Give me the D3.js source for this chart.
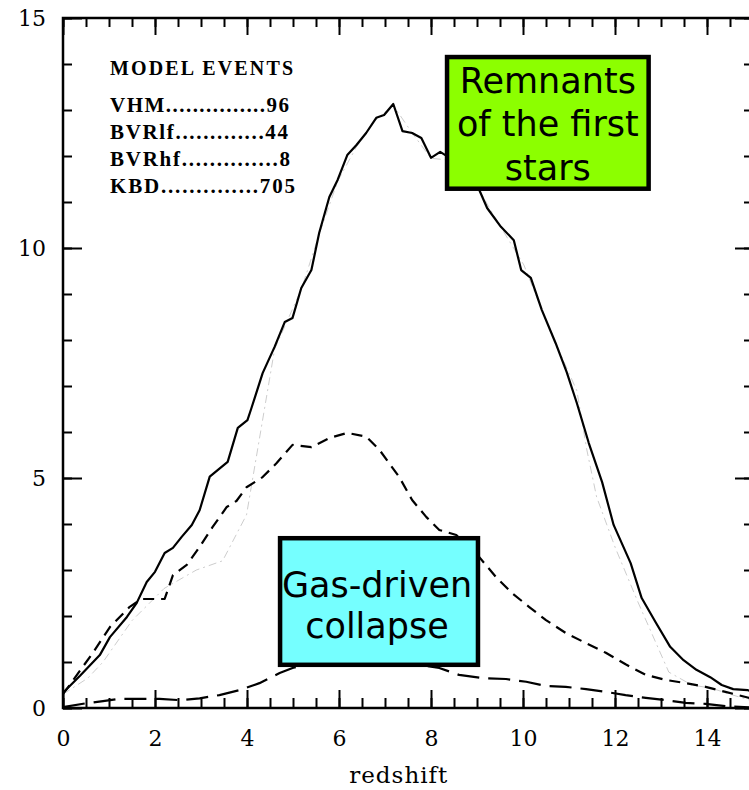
<!DOCTYPE html>
<html><head><meta charset="utf-8">
<script src="https://cdn.jsdelivr.net/npm/d3@7"></script>
<style>body{margin:0;background:#fff;overflow:hidden} svg{display:block}</style>
</head><body>
<svg id="c" width="749" height="790"></svg>
<script>
// KBD (solid)
const zKBD = [0,0.37,0.8,1.02,1.39,1.6,1.82,2.0,2.21,2.39,2.58,2.8,2.97,3.19,3.58,3.8,4.01,4.09,4.34,4.6,4.82,4.99,5.18,5.4,5.57,5.79,5.97,6.18,6.38,6.59,6.81,6.98,7.18,7.38,7.59,7.79,8.0,8.2,8.5,8.8,9.05,9.22,9.52,9.8,9.96,10.17,10.41,10.71,10.95,11.17,11.43,11.72,11.97,12.34,12.58,12.88,13.2,13.49,13.77,14.07,14.32,14.57,14.88,15];
const nKBD = [0.33,0.7,1.15,1.54,1.98,2.28,2.74,2.96,3.37,3.48,3.72,3.98,4.3,5.03,5.35,6.09,6.26,6.5,7.28,7.85,8.39,8.48,9.13,9.52,10.33,11.11,11.48,12.02,12.24,12.5,12.83,12.89,13.13,12.54,12.5,12.39,11.96,12.09,11.9,11.6,11.26,10.87,10.46,10.17,9.52,9.35,8.65,7.93,7.3,6.63,5.76,4.91,3.98,3.15,2.39,1.87,1.33,1.04,0.83,0.67,0.5,0.41,0.39,0.35];
// VHM (short dash)
const zVHM = [0,0.65,1.02,1.45,1.71,2.21,2.39,2.69,2.97,3.25,3.56,3.77,3.99,4.34,4.64,4.99,5.4,5.79,6.18,6.59,6.88,7.31,7.59,7.9,8.18,8.55,9.05,9.41,9.76,10.13,10.5,10.93,11.37,11.8,12.23,12.67,13.1,13.54,13.97,14.4,14.84,15];
const nVHM = [0.3,1.2,1.76,2.2,2.37,2.37,2.89,3.11,3.5,3.93,4.37,4.5,4.8,5.02,5.32,5.72,5.67,5.87,5.98,5.9,5.61,5.02,4.52,4.15,3.87,3.76,3.28,2.85,2.5,2.2,1.91,1.63,1.41,1.2,0.95,0.72,0.61,0.54,0.46,0.35,0.24,0.2];
// BVRlf (long dash)
const zBVRlf = [0,0.48,0.87,1.24,1.67,2.1,2.54,2.97,3.4,3.84,4.27,4.71,4.99,5.5,6,6.5,7,7.5,8.18,8.61,9.11,9.63,10.07,10.5,10.93,11.37,11.8,12.23,12.67,13.1,13.54,13.97,14.4,15];
const nBVRlf = [0.02,0.1,0.15,0.2,0.2,0.2,0.17,0.21,0.28,0.39,0.54,0.76,0.87,0.98,1.04,1.05,1.03,0.98,0.87,0.72,0.65,0.63,0.57,0.48,0.46,0.41,0.35,0.28,0.22,0.17,0.11,0.09,0.04,0.01];
// BVRhf (faint dot-dash, mostly hidden under the solid curve)
const zBVRhf = [0,0.54,0.87,1.5,2.2,2.9,3.47,3.99,4.6,5.18,5.57,5.97,6.38,6.81,7.18,7.59,8.0,8.5,9.05,9.52,10.02,10.41,10.71,11.17,11.39,11.6,12.0,12.5,13.17,13.67,14.1,14.5,15];
const nBVRhf = [0.3,0.65,1.0,1.9,2.6,3.0,3.2,4.2,7.8,9.1,10.3,11.45,12.2,12.8,13.1,12.5,11.95,11.9,11.25,10.45,9.63,8.65,7.93,6.9,5.6,4.59,3.5,2.3,0.78,0.5,0.43,0.3,0.15];

const legendHead = "MODEL  EVENTS";
const legendModels = ["VHM","BVRlf","BVRhf","KBD"];
const legendEvents = ["96","44","8","705"];
const legendDots = [15,13,14,14];

const xTicksMajor = [0,2,4,6,8,10,12,14];
const yTicksMajor = [0,5,10,15];
const xLabel = "redshift";

const boxLabels = [["Remnants","of the first","stars"],["Gas-driven","collapse"]];
const boxColors = ["#8cff00","#75ffff"];

const svg = d3.select("#c");
const x = d3.scaleLinear([0,15],[63,753]);
const y = d3.scaleLinear([0,15],[708,18]);

const tickFont = "'DejaVu Serif', serif";

const xMinor = d3.range(0,15.01,0.5);
const yMinor = d3.range(0,15.01,1);
function styleAxis(g){ g.select(".domain").remove(); g.selectAll("line").attr("stroke","#000").attr("stroke-width",2); }

svg.append("g").attr("transform","translate(0,708)")
  .call(d3.axisBottom(x).tickValues(xMinor).tickSize(-10).tickFormat("")).call(styleAxis);
svg.append("g").attr("transform","translate(0,708)")
  .call(d3.axisBottom(x).tickValues(xTicksMajor).tickSize(-18).tickPadding(22).tickFormat(d3.format("d")))
  .call(styleAxis)
  .selectAll("text").attr("font-family",tickFont).attr("font-size",22).attr("fill","#000");
svg.append("g").attr("transform","translate(0,18)")
  .call(d3.axisTop(x).tickValues(xMinor).tickSize(-9).tickFormat("")).call(styleAxis);
svg.append("g").attr("transform","translate(0,18)")
  .call(d3.axisTop(x).tickValues(xTicksMajor).tickSize(-17).tickFormat("")).call(styleAxis);

svg.append("g").attr("transform","translate(63,0)")
  .call(d3.axisLeft(y).tickValues(yMinor).tickSize(-9).tickFormat("")).call(styleAxis);
svg.append("g").attr("transform","translate(63,0)")
  .call(d3.axisLeft(y).tickValues(yTicksMajor).tickSize(-19).tickPadding(17).tickFormat(d3.format("d")))
  .call(styleAxis)
  .selectAll("text").attr("font-family",tickFont).attr("font-size",22).attr("fill","#000");
svg.append("g").attr("transform","translate(753,0)")
  .call(d3.axisRight(y).tickValues(yMinor).tickSize(-9).tickFormat("")).call(styleAxis);
svg.append("g").attr("transform","translate(753,0)")
  .call(d3.axisRight(y).tickValues(yTicksMajor).tickSize(-18).tickFormat("")).call(styleAxis);

// frame
svg.append("rect").attr("x",x(0)).attr("y",y(15)).attr("width",x(15)-x(0)).attr("height",y(0)-y(15))
  .attr("fill","none").attr("stroke","#000").attr("stroke-width",2.5);

// axis label
svg.append("text").attr("x",x(7.3)).attr("y",783).attr("text-anchor","middle")
  .attr("font-family",tickFont).attr("font-size",23).attr("letter-spacing",1).attr("fill","#000").text(xLabel);

// curves
const line = d3.line().x(d=>x(d[0])).y(d=>y(d[1]));
const series = [
  {z:zBVRhf, n:nBVRhf, dash:"8,4,2,4", w:1, op:0.2},
  {z:zBVRlf, n:nBVRlf, dash:"22,9", w:2.2, op:1},
  {z:zVHM, n:nVHM, dash:"11,7", w:2.2, op:1},
  {z:zKBD, n:nKBD, dash:null, w:2.2, op:1}
];
series.forEach(s=>{
  svg.append("path").datum(d3.zip(s.z,s.n)).attr("d",line)
    .attr("fill","none").attr("stroke","#000").attr("stroke-width",s.w)
    .attr("stroke-opacity",s.op).attr("stroke-dasharray",s.dash).attr("stroke-linejoin","round");
});

// legend
const lg = svg.append("g").attr("font-family","'Liberation Serif', serif").attr("font-weight","bold").attr("fill","#000");
lg.append("text").attr("x",110).attr("y",75).attr("font-size",20).attr("textLength",183).attr("lengthAdjust","spacing").text(legendHead);
const lgW = [179,178,180,185];
legendModels.forEach((m,i)=>{
  lg.append("text").attr("x",110).attr("y",112+27*i).attr("font-size",21)
    .attr("textLength",lgW[i]).attr("lengthAdjust","spacing")
    .text(m + ".".repeat(legendDots[i]) + legendEvents[i]);
});

// annotation boxes (in data coords)
const boxX = [[8.3,12.78],[4.67,9.07]];
const boxY = [[14.2,11.24],[3.74,0.89]];
const boxBase = [[93,136,180],[597,638]];
boxLabels.forEach((lines,i)=>{
  const x0=x(boxX[i][0]), x1=x(boxX[i][1]), y0=y(boxY[i][0]), y1=y(boxY[i][1]);
  svg.append("rect").attr("x",x0+2.25).attr("y",y0+2.25).attr("width",x1-x0-4.5).attr("height",y1-y0-4.5)
    .attr("fill",boxColors[i]).attr("stroke","#000").attr("stroke-width",4.5);
  lines.forEach((t,j)=>{
    svg.append("text").attr("x",(x0+x1)/2 - (i===1?2:0)).attr("y",boxBase[i][j]).attr("text-anchor","middle")
      .attr("font-family","'DejaVu Sans', sans-serif").attr("font-size",35).attr("fill","#000").text(t);
  });
});
</script>
</body></html>
